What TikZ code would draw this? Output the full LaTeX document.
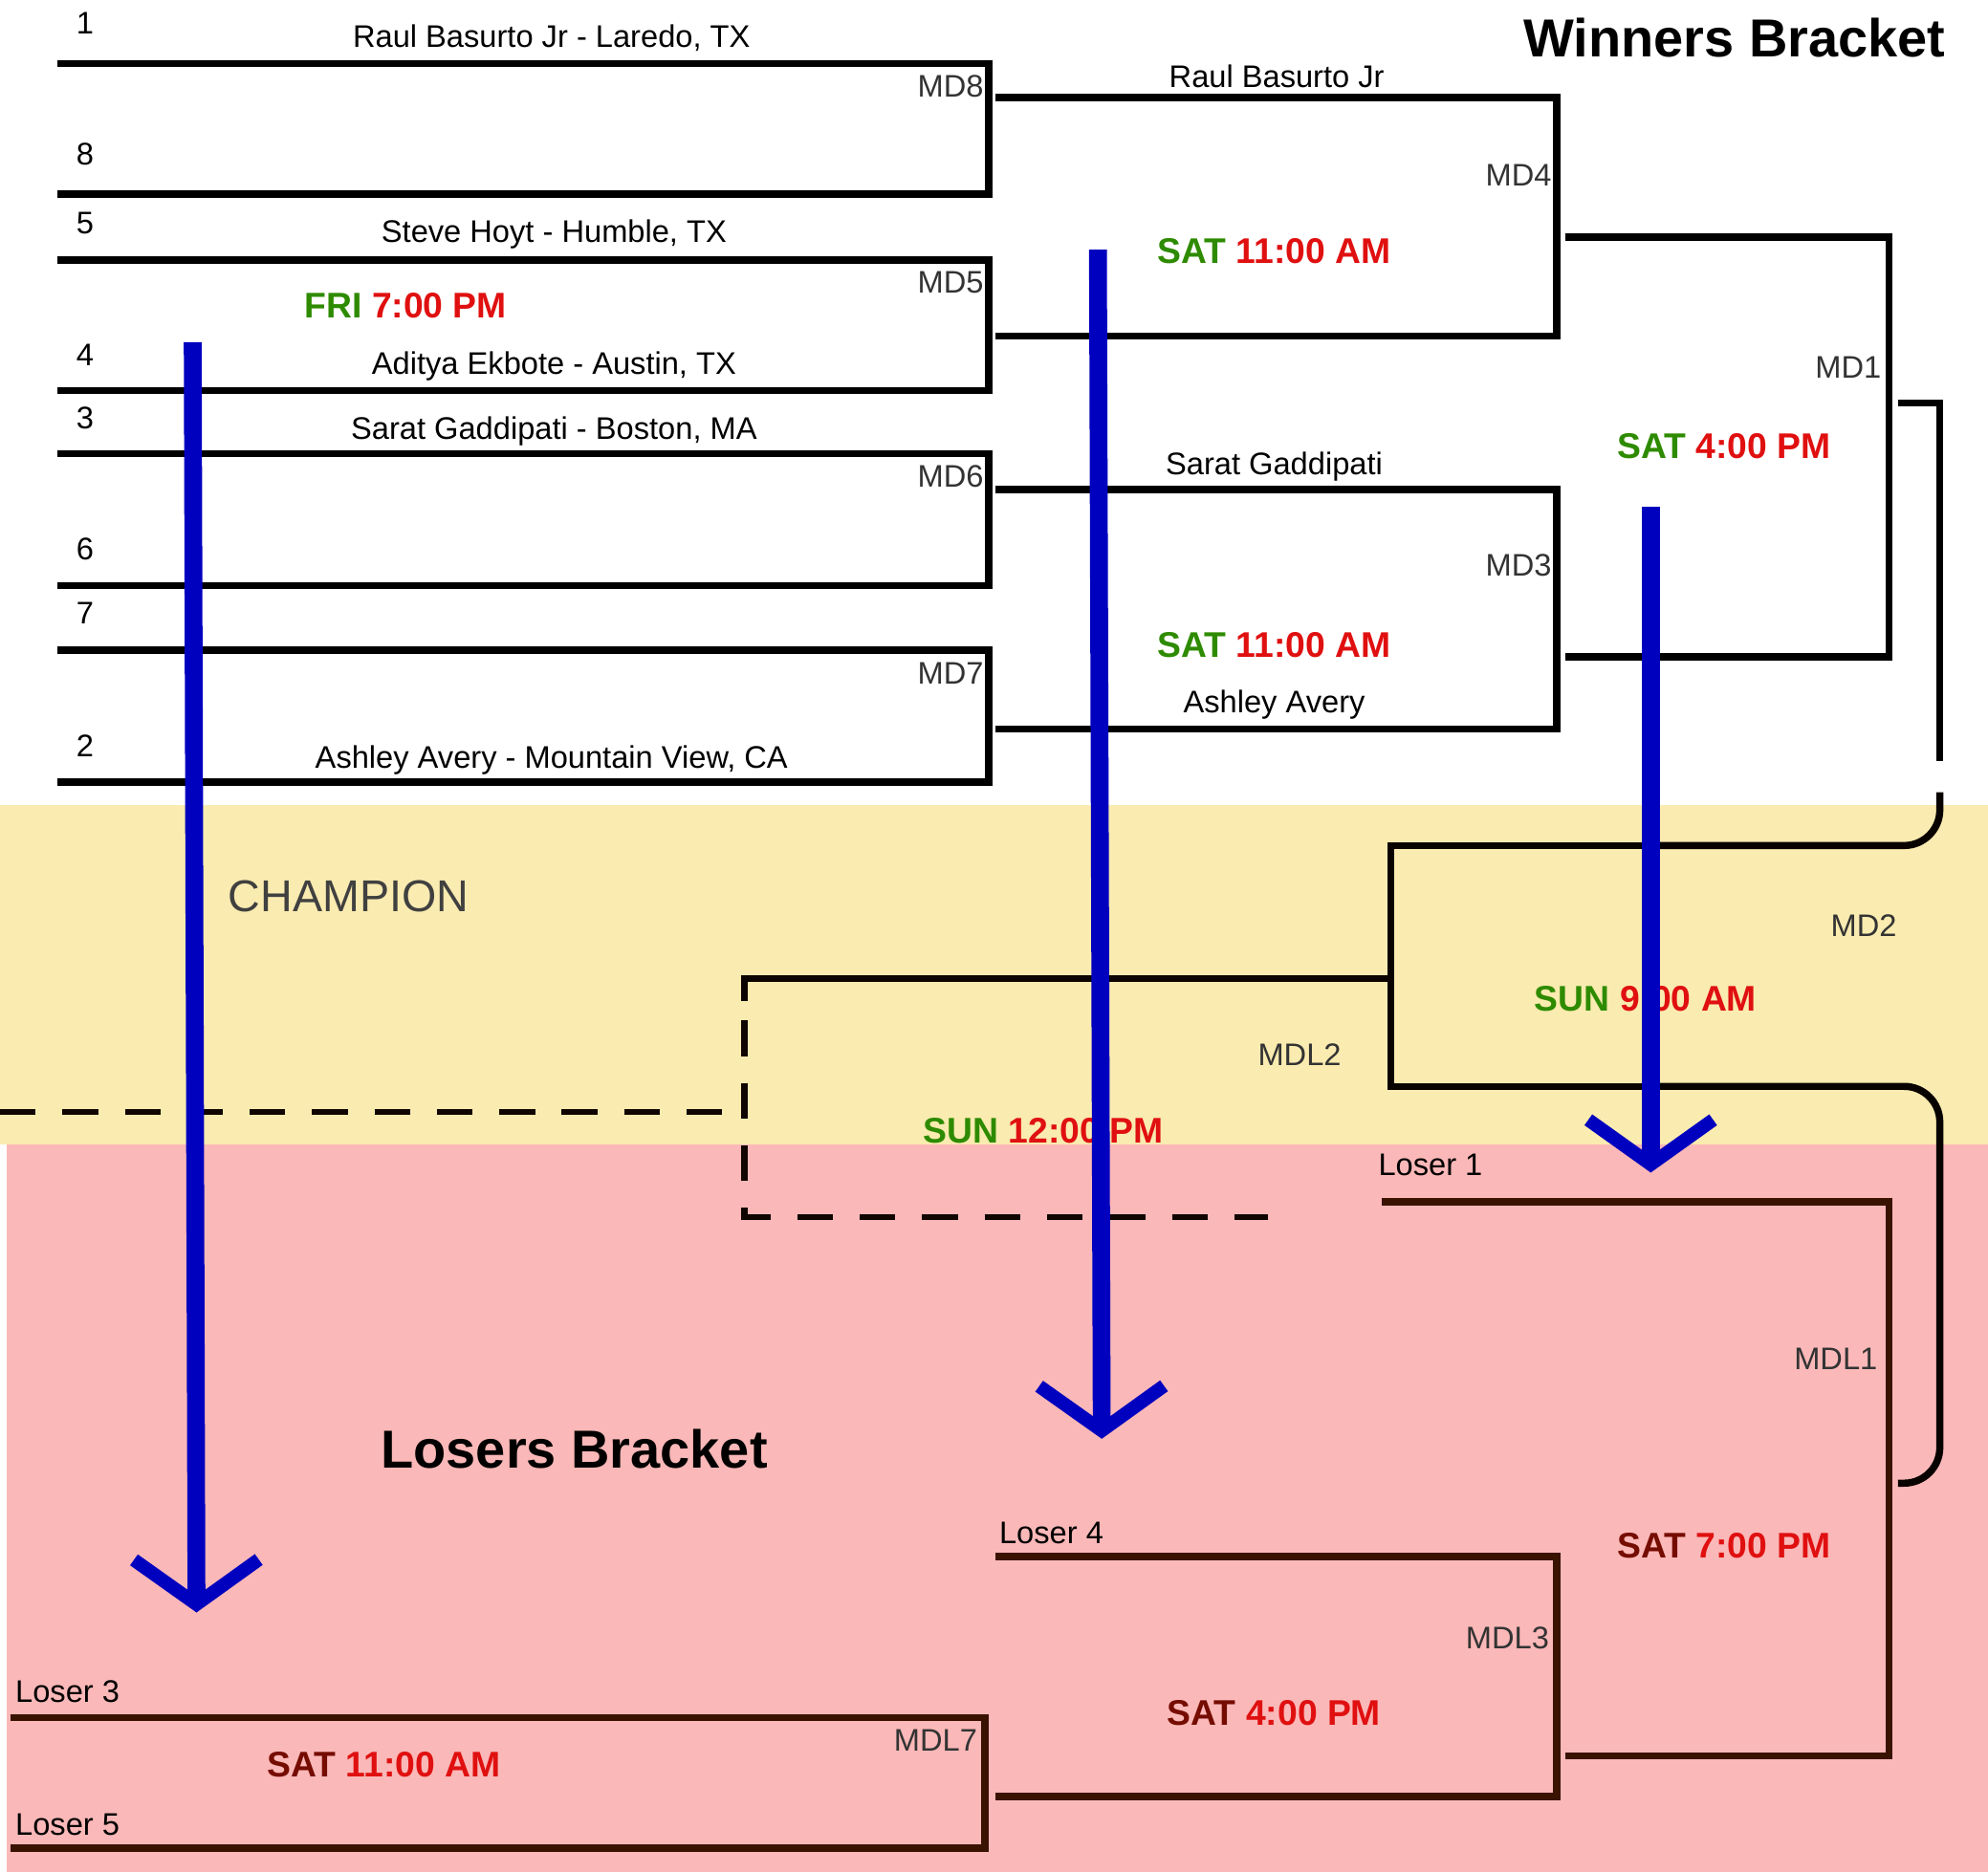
\documentclass[tikz,border=0pt]{standalone}
\usepackage{fontspec}
\setmainfont{Liberation Sans}
\usetikzlibrary{arrows.meta, positioning}
\definecolor{dgreen}{HTML}{2E8B00}
\definecolor{dred}{HTML}{E01010}
\definecolor{lbrown}{HTML}{3A1200}
\definecolor{bandy}{HTML}{FAEBB0}
\definecolor{bandp}{HTML}{FBB8B8}
\newcommand{\slot}[2]{\textcolor{dgreen}{#1} \textcolor{dred}{#2}}
\begin{document}
\begin{tikzpicture}[x=0.01cm, y=-0.01cm,
  every node/.style={font=\scriptsize, inner sep=1pt},
  line/.style={line width=1.6pt, draw=black},
  lline/.style={line width=1.6pt, draw=lbrown},
  dline/.style={line width=1.4pt, draw=black!70!lbrown, dash pattern=on 8pt off 6pt},
  seed/.style={font=\scriptsize},
  md/.style={font=\scriptsize, text=black!80},
  time/.style={font=\footnotesize\bfseries},
  title/.style={font=\large\bfseries},
  pen/.style={line width=4pt, draw=blue!75!black, -{Straight Barb[length=10pt, width=28pt, line width=3pt]}}
]
\useasboundingbox (0,0) rectangle (1568,1477);
% Bands
\fill[bandy] (0,635) rectangle (1568,903);
\fill[bandp] (5,903) rectangle (1568,1477);

% First round
\foreach \ya/\yb/\m in {50/153/MD8, 205/308/MD5, 358/462/MD6, 513/617/MD7}{
  \draw[line] (45,\ya) -| (780,\yb) -- (45,\yb);
  \node[md, anchor=east] at (780,{\ya+18}) {\m};
}
\foreach \y/\s in {18/1, 122/8, 176/5, 280/4, 330/3, 433/6, 484/7, 588/2}
  \node[seed] at (67,\y) {\s};
\node (raul) at (435,30) {Raul Basurto Jr - Laredo, TX};
\node (steve) at (437,185) {Steve Hoyt - Humble, TX};
\node (aditya) at (437,289) {Aditya Ekbote - Austin, TX};
\node (sarat) at (437,340) {Sarat Gaddipati - Boston, MA};
\node (ashley) at (435,600) {Ashley Avery - Mountain View, CA};
\node[time] (fri) at (320,241) {\slot{FRI}{7:00 PM}};

% Second round
\draw[line] (785,77) -| (1228,265) -- (785,265);
\draw[line] (785,386) -| (1228,575) -- (785,575);
\node[md, anchor=east] at (1228,138) {MD4};
\node[md, anchor=east] at (1228,446) {MD3};
\node (raul2) at (1007,60) {Raul Basurto Jr};
\node (sarat2) at (1005,368) {Sarat Gaddipati};
\node (ashley2) at (1005,556) {Ashley Avery};
\node[time] at (1005,198) {\slot{SAT}{11:00 AM}};
\node[time] at (1005,509) {\slot{SAT}{11:00 AM}};

% Winners final
\draw[line] (1235,187) -| (1490,518) -- (1235,518);
\node[md, anchor=east] at (1488,290) {MD1};
\node[time] at (1360,352) {\slot{SAT}{4:00 PM}};
\draw[line] (1497,318) -| (1530,600);
\draw[line, draw=black!85!lbrown, rounded corners=8pt] (1530,625) |- (1300,667);
\draw[line, draw=black!85!lbrown] (1300,667) -- (1097,667) -- (1097,857) -- (1300,857);
\draw[line, draw=black!85!lbrown, rounded corners=8pt] (1300,857) -| (1530,1170) -- (1497,1170);
\node[md] at (1470,730) {MD2};
\node[time] at (1298,788) {\slot{SUN}{9:00 AM}};

% Champion
\draw[line, draw=black!80!lbrown] (1097,772) -- (587,772) -- (587,790);
\draw[dline] (587,805) -- (587,960) -- (1000,960);
\draw[dline] (0,877) -- (580,877);
\node[md] at (1025,832) {MDL2};
\node[time] at (823,892) {\slot{SUN}{12:00 PM}};
\node[font=\normalsize, text=black!75] (champ) at (275,707) {CHAMPION};

% Losers bracket
\draw[lline] (1090,948) -| (1490,1385) -- (1235,1385);
\node[anchor=south west] at (1083,932) {Loser 1};
\node[md, anchor=east] at (1485,1072) {MDL1};
\node[time] at (1360,1219) {\textcolor{lbrown!70!red}{SAT} \textcolor{dred}{7:00 PM}};
\draw[lline] (785,1228) -| (1228,1417) -- (785,1417);
\node[anchor=south west] at (784,1222) {Loser 4};
\node[md, anchor=east] at (1226,1292) {MDL3};
\node[time] at (1005,1351) {\textcolor{lbrown!70!red}{SAT} \textcolor{dred}{4:00 PM}};
\draw[lline] (8,1355) -| (777,1458) -- (8,1458);
\node[anchor=south west] at (8,1347) {Loser 3};
\node[anchor=south west] at (8,1452) {Loser 5};
\node[md, anchor=east] at (775,1373) {MDL7};
\node[time] at (303,1392) {\textcolor{lbrown!70!red}{SAT} \textcolor{dred}{11:00 AM}};

% Titles
\node[title] (wtitle) at (1368,30) {Winners Bracket};
\node[title] (ltitle) at (453,1143) {Losers Bracket};

% Pen arrows
\coordinate (a1) at (152,270); \coordinate (b1) at (155,1272);
\coordinate (a2) at (866,197); \coordinate (b2) at (869,1135);
\coordinate (a3) at (1302,400); \coordinate (b3) at (1302,925);
\draw[pen] (a1) -- (b1);
\draw[pen] (a2) -- (b2);
\draw[pen] (a3) -- (b3);
\end{tikzpicture}
\end{document}
